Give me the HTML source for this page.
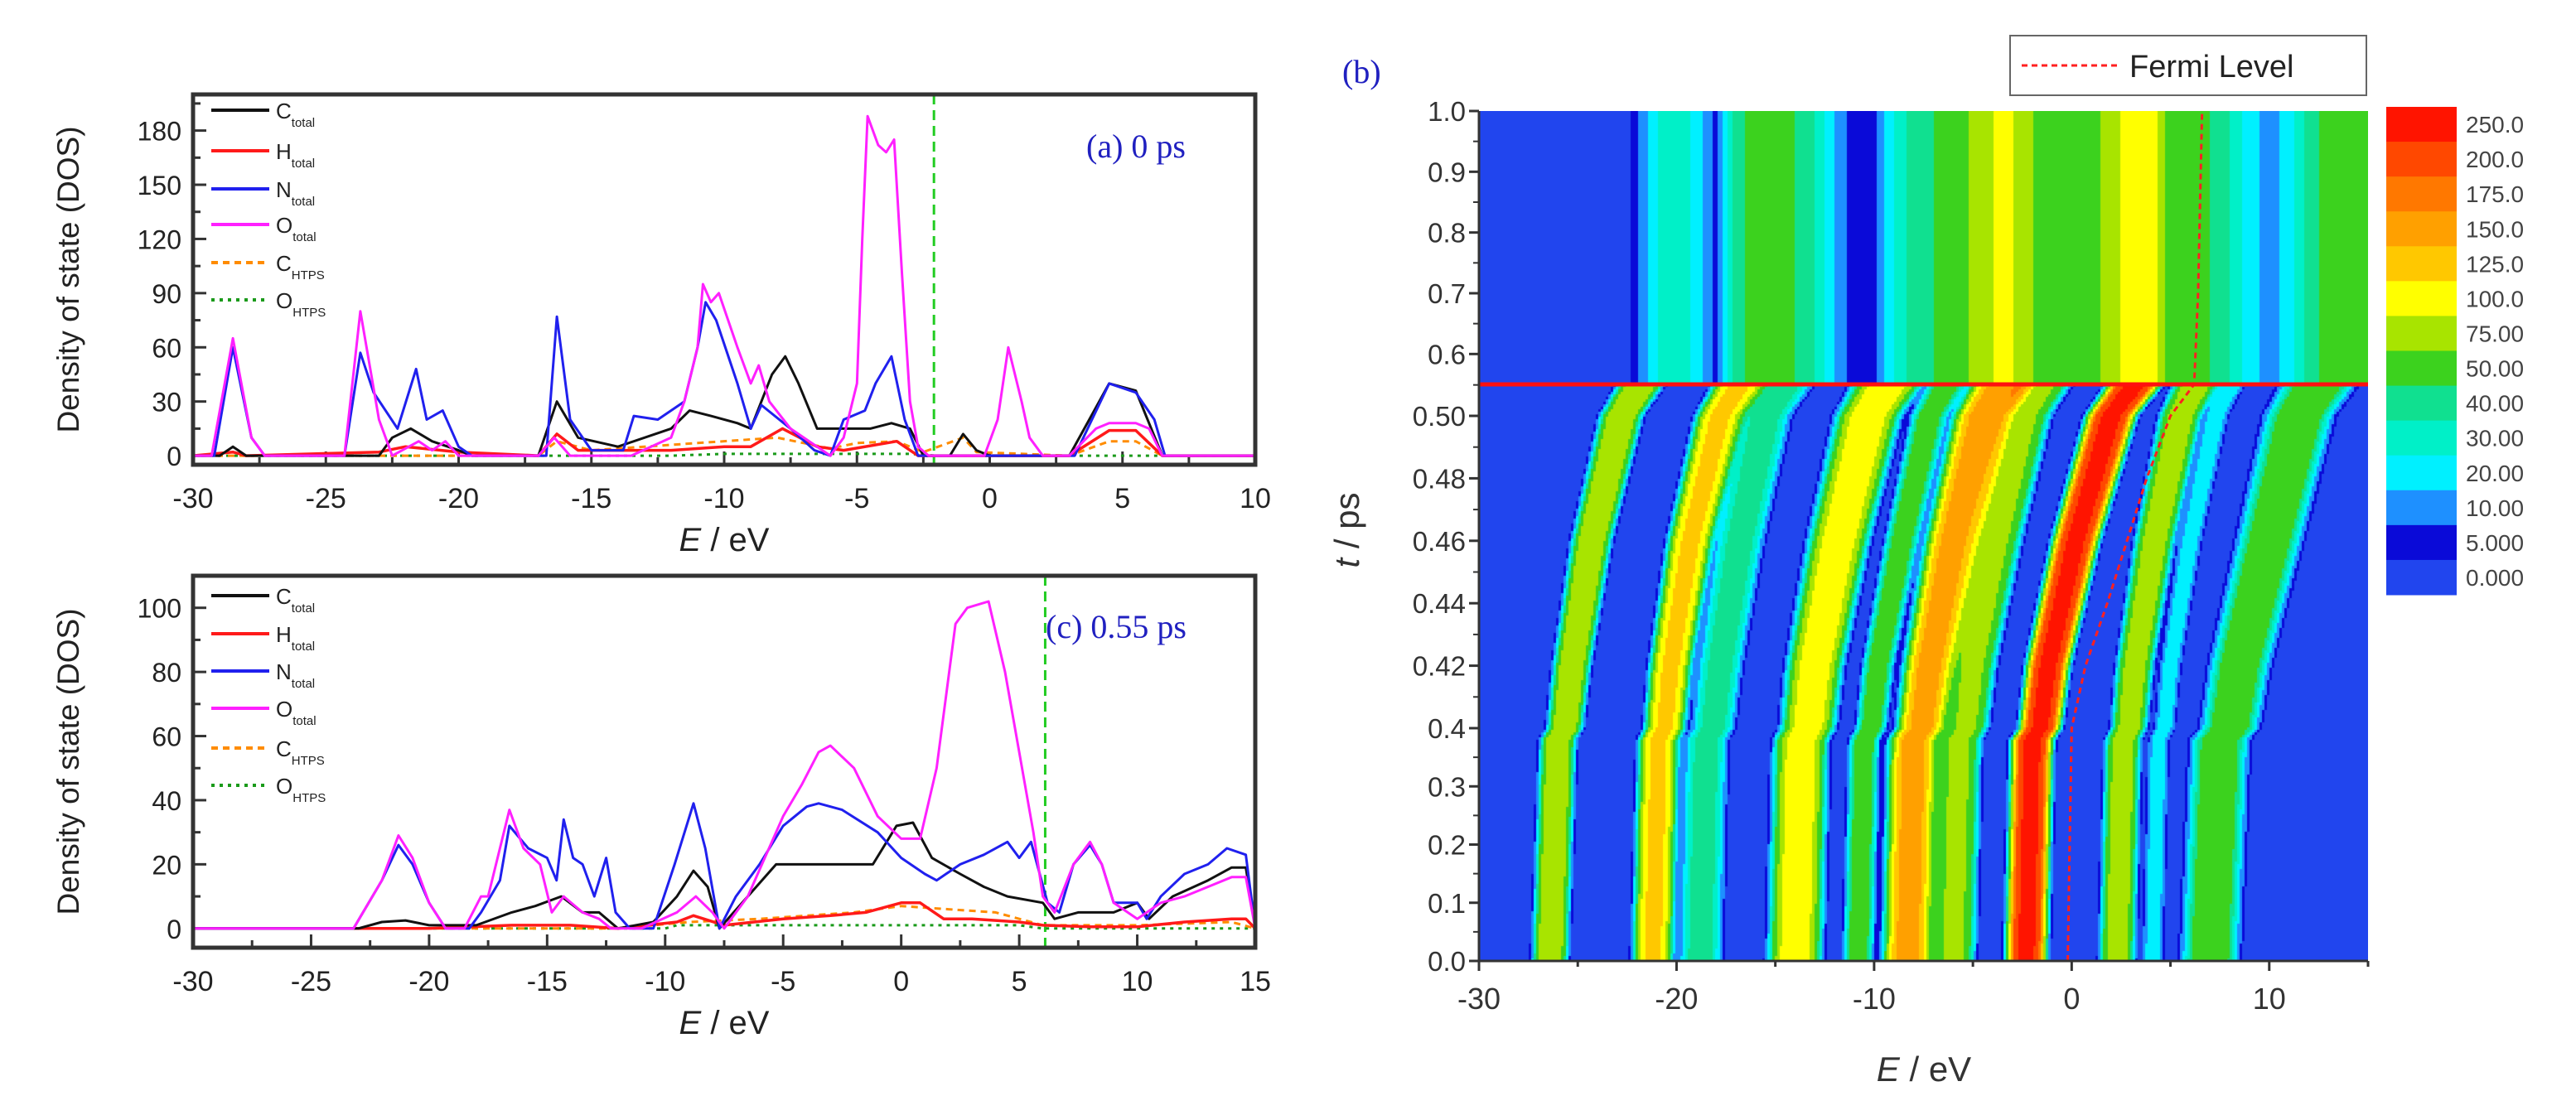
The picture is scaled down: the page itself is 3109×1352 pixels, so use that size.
<!DOCTYPE html>
<html><head><meta charset="utf-8">
<style>
html,body{margin:0;padding:0;background:#fff;}
#wrap{position:relative;width:3109px;height:1352px;overflow:hidden;background:#fff;font-family:"Liberation Sans",sans-serif;}
#svg{position:absolute;left:0;top:0;}
#heat{position:absolute;left:1785px;top:134px;}
</style></head>
<body>
<div id="wrap">
<canvas id="heat" width="1073" height="1026"></canvas>
<svg id="svg" width="3109" height="1352" xmlns="http://www.w3.org/2000/svg"></svg>
</div>
<script>
// ---------- Panel (a) data: [E, DOS] ----------
const aCtotal=[[-30,0],[-29,0],[-28.5,5],[-28,0],[-23,0],[-22.5,10],[-21.8,15],[-21,8],[-20,3],[-19.5,0],[-17,0],[-16.3,30],[-15.5,10],[-14,5],[-12,15],[-11.3,25],[-10.5,22],[-9.5,18],[-9,15],[-8.2,45],[-7.7,55],[-7.2,40],[-6.5,15],[-6,15],[-4.5,15],[-3.7,18],[-3,15],[-2.5,0],[-1.5,0],[-1,12],[-0.5,3],[0,0],[3,0],[4.5,40],[5.5,36],[6.5,0],[10,0]];
const aHtotal=[[-30,0],[-28.5,2],[-28,0],[-23,2],[-22,5],[-20,2],[-17,0],[-16.3,12],[-15.5,3],[-12,3],[-10,5],[-9,5],[-7.8,15],[-6.5,5],[-5.5,3],[-3.5,8],[-2.7,0],[3,0],[4.5,14],[5.5,14],[6.5,0],[10,0]];
const aNtotal=[[-30,0],[-29.2,0],[-28.5,60],[-27.8,10],[-27.3,0],[-24.3,0],[-23.7,57],[-23.2,35],[-22.3,15],[-21.6,48],[-21.2,20],[-20.6,25],[-20,5],[-19.5,0],[-16.7,0],[-16.3,77],[-15.8,20],[-15,3],[-13.8,3],[-13.4,22],[-12.5,20],[-11.5,30],[-11,60],[-10.7,85],[-10.3,75],[-9.5,40],[-9,15],[-8.6,28],[-7.5,15],[-6.6,3],[-6,0],[-5.5,20],[-4.7,25],[-4.3,40],[-3.7,55],[-3.2,20],[-2.7,0],[3.2,0],[4.5,40],[5.5,35],[6.2,20],[6.6,0],[10,0]];
const aOtotal=[[-30,0],[-29.3,0],[-28.5,65],[-27.8,10],[-27.3,0],[-24.3,0],[-23.7,80],[-23,20],[-22.5,0],[-21.5,8],[-21,3],[-20.5,8],[-20,0],[-17,0],[-16.4,10],[-15.8,0],[-13.5,0],[-12,10],[-11.5,30],[-11,60],[-10.8,95],[-10.5,85],[-10.2,90],[-9.5,60],[-9,40],[-8.7,50],[-8.3,30],[-7.5,15],[-6.5,5],[-6,0],[-5.5,10],[-5,40],[-4.8,120],[-4.6,188],[-4.2,172],[-3.9,168],[-3.6,175],[-3.3,100],[-3,30],[-2.7,5],[-2.3,0],[-0.2,0],[0.3,20],[0.7,60],[1.2,30],[1.5,10],[2,0],[3,0],[4,15],[4.5,18],[5.5,18],[6,15],[6.5,0],[10,0]];
const aCHTPS=[[-30,0],[-17,0],[-16.3,8],[-15,3],[-13,5],[-11,7],[-8,10],[-6,4],[-5,7],[-3.5,8],[-2.5,2],[-1,10],[-0.5,2],[3,0],[4.5,8],[5.5,8],[6.5,0],[10,0]];
const aOHTPS=[[-30,0],[-12,0],[-10,1],[-3,1],[-2,0],[10,0]];
// ---------- Panel (c) data ----------
const cCtotal=[[-30,0],[-23,0],[-22,2],[-21,2.5],[-20,1],[-18,1],[-16.5,5],[-15.5,7],[-14.4,10],[-13.5,5],[-12.8,5],[-12,0],[-10.5,2],[-9.5,10],[-8.8,18],[-8.2,13],[-7.7,0],[-6.5,10],[-5.3,20],[-4,20],[-2.5,20],[-1.2,20],[-0.2,32],[0.5,33],[1.3,22],[2.5,17],[3.5,13],[4.5,10],[6,8],[6.5,3],[7.5,5],[9,5],[10,8],[10.5,3],[11.5,10],[13,15],[14,19],[14.6,19],[15,0]];
const cHtotal=[[-30,0],[-23,0],[-20,0],[-16.5,1],[-14,1],[-12,0],[-9.5,2],[-8.8,4],[-7.5,1],[-5,3],[-3,4],[-1.5,5],[0,8],[0.8,8],[1.8,3],[3,3],[5,2],[6,1],[8,0.5],[10,0.5],[12,2],[14,3],[14.6,3],[15,0]];
const cNtotal=[[-30,0],[-23.2,0],[-22,15],[-21.3,26],[-20.7,20],[-20,8],[-19.3,0],[-18.3,0],[-17.8,5],[-17,15],[-16.6,32],[-15.8,25],[-15,22],[-14.6,15],[-14.3,34],[-13.9,22],[-13.5,20],[-13,10],[-12.5,22],[-12.1,5],[-11.5,0],[-10.5,0],[-9.6,20],[-8.8,39],[-8.3,25],[-7.7,0],[-7,10],[-6,20],[-5,32],[-4,38],[-3.5,39],[-2.5,37],[-1,30],[0,22],[1,17],[1.5,15],[2.5,20],[3.5,23],[4.5,27],[5,22],[5.5,27],[6.2,8],[6.7,5],[7.3,20],[8,26],[8.5,20],[9,8],[10,8],[10.4,3],[11,10],[12,17],[13,20],[13.8,25],[14.6,23],[15,0]];
const cOtotal=[[-30,0],[-23.2,0],[-22,15],[-21.3,29],[-20.7,22],[-20,8],[-19.3,0],[-18.5,0],[-17.8,10],[-17.5,10],[-16.6,37],[-16,25],[-15.3,20],[-14.8,5],[-14.3,10],[-13.5,5],[-12.8,3],[-12.3,0],[-11,0],[-9.5,5],[-8.7,10],[-8,5],[-7.5,0],[-6.5,10],[-5,35],[-4.2,45],[-3.5,55],[-3,57],[-2,50],[-1,35],[0,28],[0.8,28],[1.5,50],[2.3,95],[2.8,100],[3.7,102],[4.4,80],[5,55],[5.6,30],[6,10],[6.5,5],[7.3,20],[8,27],[8.5,20],[9,8],[10,3],[11,8],[12,10],[13,13],[14,16],[14.6,16],[15,0]];
const cCHTPS=[[-30,0],[-12,0],[-9,2],[-6,3],[-2,5],[0,7],[2,6],[4,5],[6,1],[8,1],[10,1],[14,2],[15,0]];
const cOHTPS=[[-30,0],[-10,0],[-9.5,1],[5,1],[6,0],[15,0]];
// ---------- Panel (b) data ----------
const bandKnotsT=[0,0.38,0.42,0.46,0.50,0.55];
const bandCentersA=[-26.4,-26.0,-25.3,-24.3,-22.8,-21.8];
const bandCentersB1=[-21.2,-20.9,-20.3,-19.3,-17.8,-16.8];
const bandCentersB2=[-18.8,-18.5,-17.8,-16.8,-15.5,-14.5];
const bandCentersC=[-14.0,-13.7,-13.0,-11.8,-10.3,-9.3];
const bandCentersD1=[-10.8,-10.5,-9.8,-8.6,-7.2,-6.3];
const bandCentersD2=[-8.3,-8.0,-7.2,-6.0,-4.5,-3.5];
const bandCentersD3=[-6.0,-5.7,-5.0,-3.8,-2.4,-1.5];
const bandCentersE=[-2.3,-2.0,-1.2,0.2,2.0,3.2];
const bandCentersF1=[2.3,2.6,3.2,4.2,5.5,6.3];
const bandCentersF2=[4.1,4.4,5.0,6.0,7.3,8.1];
const bandCentersG=[7.0,7.5,8.5,10.0,11.5,12.5];
const bandPeaks=[100,130,45,115,60,160,80,260,90,25,65];
const topProfileE=[-30,-23,-22,-21,-20,-19,-18,-17,-16,-15,-14,-13,-12,-11,-10,-9,-8,-7,-6,-5,-4,-3,-2,-1,0,1,2,3,4,5,6,7,8,9,10,11,12,13,14,15];
const topProfileV=[0,0,8,30,40,25,8,45,55,55,50,40,20,5,8,30,45,50,60,80,100,100,75,60,55,60,90,110,120,60,55,50,40,25,15,25,45,55,55,55];
const fermiT=[0,0.2,0.4,0.42,0.44,0.46,0.48,0.5,0.55,0.7,1.0];
const fermiE=[-0.2,-0.1,0,0.7,1.8,2.8,3.8,5,6.2,6.4,6.6];
const levelValues=[0,5,10,20,30,40,50,75,100,125,150,175,200,250];
const levelLabels=["0.000","5.000","10.00","20.00","30.00","40.00","50.00","75.00","100.0","125.0","150.0","175.0","200.0","250.0"];
const levelColors=["#2145ee","#0a0ad8","#1e90ff","#00f0ff","#00f0c8","#10e090","#3cd21e","#a8e400","#ffff00","#ffc800","#ffa000","#ff7800","#ff4800","#ff1400"];

const NS="http://www.w3.org/2000/svg";
const svg=document.getElementById('svg');
function el(tag,attrs,parent){const e=document.createElementNS(NS,tag);for(const k in attrs)e.setAttribute(k,attrs[k]);(parent||svg).appendChild(e);return e;}

function linePanel(cfg){
  const g=el('g',{});
  
  
  const {L,R,T,B,x0,x1,y0,y1}=cfg;
  const sx=v=>L+(v-x0)/(x1-x0)*(R-L);
  const sy=v=>B-(v-y0)/(y1-y0)*(B-T);
  el('rect',{x:L,y:T,width:R-L,height:B-T,fill:'#fff'},g);
  for(let v=x0;v<=x1+1e-9;v+=cfg.xminor){
    const major=Math.abs(Math.round(v/cfg.xmajor)*cfg.xmajor-v)<1e-6;
    const t=el('line',{x1:sx(v),x2:sx(v),y1:B,y2:B-(major?16:9),stroke:'#333','stroke-width':3},g);
    
    if(major){const tx=el('text',{x:sx(v),y:B+52,'text-anchor':'middle','font-size':34,fill:'#222'},g);tx.textContent=String(v);
      }
  }
  for(let v=0;v<=y1+1e-9;v+=cfg.yminor){
    const major=Math.abs(Math.round(v/cfg.ymajor)*cfg.ymajor-v)<1e-6;
    const t=el('line',{x1:L,x2:L+(major?16:9),y1:sy(v),y2:sy(v),stroke:'#333','stroke-width':3},g);
    
    if(major){const tx=el('text',{x:L-14,y:sy(v)+12,'text-anchor':'end','font-size':32,fill:'#222'},g);tx.textContent=String(v);
      }
  }
  const fm=el('line',{x1:sx(cfg.fermi),x2:sx(cfg.fermi),y1:T,y2:B,stroke:'#22cc22','stroke-width':3,'stroke-dasharray':'12 7'},g);
  
  const series=[
    ['o-htps-line',cfg.s[5],'#1a9a1a',3,'4 6'],
    ['c-htps-line',cfg.s[4],'#ff8c00',3,'8 6'],
    ['h-total-line',cfg.s[1],'#ff1a1a',3.5,null],
    ['c-total-line',cfg.s[0],'#111',3,null],
    ['n-total-line',cfg.s[2],'#2020ee',3,null],
    ['o-total-line',cfg.s[3],'#ff20ff',3,null]];
  for(const [nm,data,col,w,da] of series){
    const d=data.map((p,i)=>(i?'L':'M')+sx(p[0]).toFixed(1)+','+sy(p[1]).toFixed(1)).join('');
    const a={d:d,fill:'none',stroke:col,'stroke-width':w,'stroke-linejoin':'round'};
    if(da)a['stroke-dasharray']=da;
    const p=el('path',a,g);
    
  }
  el('rect',{x:L,y:T,width:R-L,height:B-T,fill:'none',stroke:'#333','stroke-width':5},g);
  const leg=el('g',{},g);
  
  const items=[['C','total','#111',null],['H','total','#ff1a1a',null],['N','total','#2020ee',null],['O','total','#ff20ff',null],['C','HTPS','#ff8c00','8 6'],['O','HTPS','#1a9a1a','4 6']];
  items.forEach((it,i)=>{
    const y=cfg.legY[i];
    const ge=el('g',{},leg);
    
    const a={x1:255,x2:325,y1:y,y2:y,stroke:it[2],'stroke-width':4};if(it[3])a['stroke-dasharray']=it[3];
    el('line',a,ge);
    const t=el('text',{x:333,y:y+10,'font-size':26,fill:'#222'},ge);
    t.appendChild(document.createTextNode(it[0]));
    const s=el('tspan',{'font-size':15,dy:10},t);s.textContent=it[1];
  });
  const lab=el('text',{x:cfg.labX,y:cfg.labY,'font-size':40,fill:'#2020c0','font-family':'"Liberation Serif",serif'},g);
  lab.textContent=cfg.label;
  const xt=el('text',{x:(L+R)/2,y:cfg.xtY,'text-anchor':'middle','font-size':40,fill:'#222'},g);
  
  const ei=el('tspan',{'font-style':'italic'},xt);ei.textContent='E';xt.appendChild(document.createTextNode(' / eV'));
  const yt=el('text',{x:0,y:0,'text-anchor':'middle','font-size':37,fill:'#222',transform:`translate(95,${(T+B)/2}) rotate(-90)`},g);
  yt.textContent='Density of state (DOS)';
}

linePanel({name:'panel-a-dos-0ps',L:233,R:1515,T:114,B:561,x0:-30,x1:10,y0:-5,y1:200,xmajor:5,xminor:2.5,ymajor:30,yminor:15,fermi:-2.1,
  s:[aCtotal,aHtotal,aNtotal,aOtotal,aCHTPS,aOHTPS],legY:[133,182,228,271,317,362],label:'(a) 0 ps',labX:1311,labY:190,xtY:665});
linePanel({name:'panel-c-dos-055ps',L:233,R:1515,T:695,B:1144,x0:-30,x1:15,y0:-6,y1:110,xmajor:5,xminor:2.5,ymajor:20,yminor:10,fermi:6.1,
  s:[cCtotal,cHtotal,cNtotal,cOtotal,cCHTPS,cOHTPS],legY:[719,765,810,855,903,948],label:'(c) 0.55 ps',labX:1262,labY:770,xtY:1248});

// ---------- Panel (b) ----------
const BL=1785,BR=2858,BT=134,BB=1160;
const tKn=[0,0.4,0.5,0.55,1.0], yKn=[1160,879,502,464,134];
function interp(xs,ys,x){if(x<=xs[0])return ys[0];for(let i=1;i<xs.length;i++){if(x<=xs[i]){const f=(x-xs[i-1])/(xs[i]-xs[i-1]);return ys[i-1]+f*(ys[i]-ys[i-1]);}}return ys[ys.length-1];}
const tToY=t=>interp(tKn,yKn,t);
const yToT=y=>interp(yKn.slice().reverse(),tKn.slice().reverse(),y);
const eToX=E=>BL+(E+30)/45*(BR-BL);
const bandCenters=[bandCentersA,bandCentersB1,bandCentersB2,bandCentersC,bandCentersD1,bandCentersD2,bandCentersD3,bandCentersE,bandCentersF1,bandCentersF2,bandCentersG];
const bandW=[0.8,0.9,1.0,1.2,0.7,1.1,1.0,0.9,0.8,0.5,1.3];
function field(E,t){
  if(t>=0.55)return interp(topProfileE,topProfileV,E);
  let v=0;
  for(let i=0;i<bandCenters.length;i++){
    const c=interp(bandKnotsT,bandCenters[i],t);const w=bandW[i]*(1+(t>0.4?(t-0.4)*2:0));
    const d=(E-c)/w;v+=bandPeaks[i]*Math.exp(-d*d*d*d);
  }
  return v;
}
function colorOf(v){let k=0;for(let i=0;i<levelValues.length;i++)if(v>=levelValues[i])k=i;return levelColors[k];}
(function(){
  const cv=document.getElementById('heat');const ctx=cv.getContext('2d');
  const W=cv.width,H=cv.height;const step=3;
  for(let py=0;py<H;py+=step){
    const t=yToT(BT+py+step/2);
    for(let px=0;px<W;px+=step){
      const E=-30+(px+step/2)/W*45;
      ctx.fillStyle=colorOf(field(E,t));ctx.fillRect(px,py,step,step);
    }
  }
})();
const gb=el('g',{});
const fd=fermiT.map((t,i)=>(i?'L':'M')+eToX(fermiE[i]).toFixed(1)+','+tToY(t).toFixed(1)).join('');
const fl=el('path',{d:fd,fill:'none',stroke:'#ff2020','stroke-width':3,'stroke-dasharray':'7 5'},gb);

const hl=el('line',{x1:BL,x2:BR,y1:tToY(0.55),y2:tToY(0.55),stroke:'#ff1010','stroke-width':5},gb);

el('line',{x1:BL,x2:BL,y1:BT,y2:BB,stroke:'#333','stroke-width':3},gb);
el('line',{x1:BL,x2:BR,y1:BB,y2:BB,stroke:'#333','stroke-width':3},gb);
const bYTicks=[0,0.1,0.2,0.3,0.4,0.42,0.44,0.46,0.48,0.5,0.6,0.7,0.8,0.9,1.0];
const bYLabels=["0.0","0.1","0.2","0.3","0.4","0.42","0.44","0.46","0.48","0.50","0.6","0.7","0.8","0.9","1.0"];
bYTicks.forEach((t,i)=>{
  const y=tToY(t);
  const tk=el('line',{x1:BL-12,x2:BL,y1:y,y2:y,stroke:'#333','stroke-width':3},gb);
  
  const tx=el('text',{x:BL-16,y:y+12,'text-anchor':'end','font-size':33,fill:'#333'},gb);tx.textContent=bYLabels[i];
  
  if(i<bYTicks.length-1){const ym=(y+tToY(bYTicks[i+1]))/2;el('line',{x1:BL-7,x2:BL,y1:ym,y2:ym,stroke:'#333','stroke-width':2},gb);}
});
for(let E=-30;E<=15;E+=5){
  const x=eToX(E);const major=E%10===0;
  el('line',{x1:x,x2:x,y1:BB,y2:BB+(major?12:7),stroke:'#333','stroke-width':3},gb);
  if(major){const tx=el('text',{x:x,y:BB+58,'text-anchor':'middle','font-size':36,fill:'#333'},gb);tx.textContent=String(E);
    }
}
const bxt=el('text',{x:2322,y:1305,'text-anchor':'middle','font-size':42,fill:'#333'},gb);

const be=el('tspan',{'font-style':'italic'},bxt);be.textContent='E';bxt.appendChild(document.createTextNode(' / eV'));
const byt=el('text',{x:0,y:0,'text-anchor':'middle','font-size':42,fill:'#333',transform:'translate(1640,640) rotate(-90)'},gb);

const bt=el('tspan',{'font-style':'italic'},byt);bt.textContent='t';byt.appendChild(document.createTextNode(' / ps'));
const pb=el('text',{x:1620,y:100,'font-size':40,fill:'#2020c0','font-family':'"Liberation Serif",serif'},gb);pb.textContent='(b)';

const lg=el('g',{},gb);
el('rect',{x:2426,y:43,width:430,height:72,fill:'#fff',stroke:'#666','stroke-width':2},lg);
el('line',{x1:2440,x2:2555,y1:79,y2:79,stroke:'#ff2020','stroke-width':3,'stroke-dasharray':'7 5'},lg);
const lt=el('text',{x:2570,y:93,'font-size':38,fill:'#222'},lg);lt.textContent='Fermi Level';
const cb=el('g',{},gb);
const cbT=129,cbB=718,n=levelValues.length,bh=(cbB-cbT)/n;
for(let i=0;i<n;i++){
  const k=n-1-i;const y=cbT+i*bh;
  const r=el('rect',{x:2880,y:y,width:85,height:bh+0.5,fill:levelColors[k]},cb);
  
  const tx=el('text',{x:2976,y:y+bh/2+10,'font-size':28,fill:'#444'},cb);tx.textContent=levelLabels[k];
  
}
</script>
</body></html>
